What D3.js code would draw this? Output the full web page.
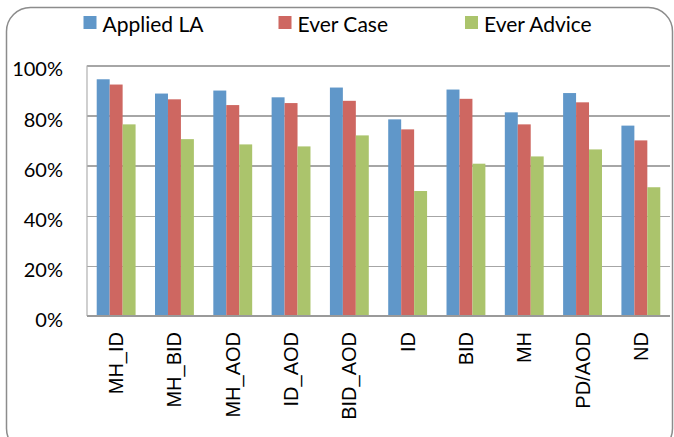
<!DOCTYPE html>
<html lang="en">
<head>
  <meta charset="utf-8">
  <title>Applied LA / Ever Case / Ever Advice</title>
  <script src="https://d3js.org/d3.v7.min.js"></script>
  <style>
    body { margin: 0; background: #ffffff; }
    .grid line { stroke: #a6a6a6; stroke-width: 1.6; shape-rendering: crispEdges; }
    .grid path { stroke: none; }
    .yaxis text { font-family: Lato, "Open Sans", sans-serif; font-size: 20px; fill: #000; }
    .xaxis text { font-family: "Liberation Sans", Arial, sans-serif; font-size: 20px; fill: #000; }
    .legend text { font-family: Lato, "Open Sans", sans-serif; font-size: 21px; fill: #000; }
  </style>
</head>
<body>
  <div id="chart"></div>
  <script>
    // data
    var categories = ["MH_ID", "MH_BID", "MH_AOD", "ID_AOD", "BID_AOD", "ID", "BID", "MH", "PD/AOD", "ND"];
    var seriesNames = ["Applied LA", "Ever Case", "Ever Advice"];
    var appliedLA  = [0.945, 0.888, 0.900, 0.873, 0.912, 0.785, 0.904, 0.813, 0.890, 0.760];
    var everCase   = [0.924, 0.865, 0.842, 0.850, 0.859, 0.745, 0.867, 0.765, 0.853, 0.701];
    var everAdvice = [0.765, 0.706, 0.685, 0.677, 0.721, 0.499, 0.608, 0.637, 0.665, 0.514];
    var yTicks = [0, 0.2, 0.4, 0.6, 0.8, 1.0];
    var colors = ["#6097c9", "#ce6761", "#abc46c"];

    var w = 674, h = 437;
    var plot = { left: 87, right: 670, top: 65.5, bottom: 316 };

    var svg = d3.select("#chart").append("svg")
      .attr("width", w)
      .attr("height", h);

    // outer chart frame
    svg.append("rect")
      .attr("x", 6.5).attr("y", 7.5)
      .attr("width", 666).attr("height", 445)
      .attr("rx", 24).attr("ry", 24)
      .attr("fill", "#fff")
      .attr("stroke", "#8c8c8c")
      .attr("stroke-width", 1.5);

    // scales
    var x0 = d3.scaleBand()
      .domain(categories)
      .range([plot.left, plot.right]);

    var bw = x0.bandwidth() / 4.5;   // gap width 150%
    var x1 = d3.scaleBand()
      .domain(seriesNames)
      .range([0.75 * bw, 3.75 * bw]);

    var y = d3.scaleLinear()
      .domain([0, 1])
      .range([plot.bottom, plot.top]);

    // gridlines
    svg.append("g")
      .attr("class", "grid")
      .attr("transform", "translate(" + plot.left + ",0)")
      .call(d3.axisLeft(y).tickValues(yTicks.slice(1)).tickSize(-(plot.right - plot.left)).tickFormat(""));

    // plot area left border
    svg.append("line")
      .attr("x1", plot.left).attr("x2", plot.left)
      .attr("y1", y(1)).attr("y2", y(0))
      .attr("stroke", "#b0b0b0").attr("stroke-width", 1.2);

    // bars
    var table = categories.map(function (c, i) {
      return { cat: c, values: [appliedLA[i], everCase[i], everAdvice[i]] };
    });

    var groups = svg.append("g").selectAll("g")
      .data(table)
      .join("g")
      .attr("transform", function (d) { return "translate(" + x0(d.cat) + ",0)"; });

    groups.selectAll("rect")
      .data(function (d) {
        return d.values.map(function (v, k) { return { key: seriesNames[k], v: v, k: k }; });
      })
      .join("rect")
      .attr("x", function (d) { return x1(d.key); })
      .attr("width", x1.bandwidth())
      .attr("y", function (d) { return y(d.v); })
      .attr("height", function (d) { return y(0) - y(d.v); })
      .attr("fill", function (d) { return colors[d.k]; });

    // category axis line
    svg.append("line")
      .attr("x1", plot.left).attr("x2", plot.right)
      .attr("y1", y(0)).attr("y2", y(0))
      .attr("stroke", "#9a9a9a").attr("stroke-width", 2);

    // y axis labels
    var yAxis = svg.append("g")
      .attr("class", "yaxis")
      .attr("transform", "translate(" + (plot.left - 14) + ",0)")
      .call(d3.axisLeft(y).tickValues(yTicks).tickSize(0).tickFormat(d3.format(".0%")));
    yAxis.select(".domain").remove();
    yAxis.selectAll("text").attr("x", -10).attr("dy", "0.52em");

    // x axis labels, rotated
    var xAxis = svg.append("g")
      .attr("class", "xaxis")
      .attr("transform", "translate(0," + plot.bottom + ")")
      .call(d3.axisBottom(x0).tickSize(0));
    xAxis.select(".domain").remove();
    xAxis.selectAll("text")
      .attr("transform", "rotate(-90)")
      .attr("text-anchor", "end")
      .attr("x", -16)
      .attr("y", 0)
      .attr("dy", "0.35em");

    // legend
    var legendX = [83.5, 278.5, 465];
    var legend = svg.append("g").attr("class", "legend")
      .selectAll("g")
      .data(seriesNames)
      .join("g")
      .attr("transform", function (d, i) { return "translate(" + legendX[i] + ",16)"; });
    legend.append("rect")
      .attr("width", 13).attr("height", 13)
      .attr("fill", function (d, i) { return colors[i]; });
    legend.append("text")
      .attr("x", 19).attr("y", 16)
      .text(function (d) { return d; });
  </script>
</body>
</html>
